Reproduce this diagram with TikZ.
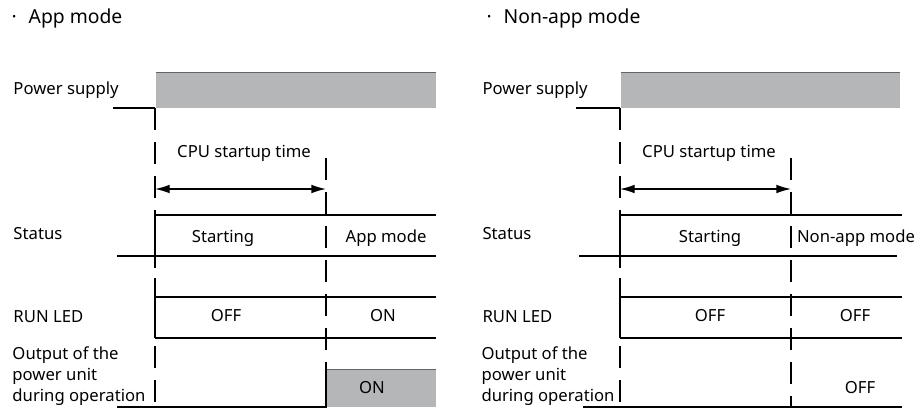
\documentclass[tikz,border=0pt]{standalone}
\usepackage{fontspec}
\setmainfont{Noto Sans}
\usetikzlibrary{arrows.meta}
\definecolor{levelgray}{RGB}{181,182,184}
\definecolor{edgegray}{RGB}{100,100,100}
\tikzset{every picture/.style={line width=0.75pt}}

\begin{document}
\begin{tikzpicture}[x=0.75pt,y=0.75pt,yscale=-1,xscale=1,font=\fontsize{12.5}{15.75}\selectfont]
\useasboundingbox (0,0) rectangle (922,412);

%%%%%%%%%% App mode
%Power supply
\fill [levelgray] (156,72) rectangle (436,108) ;
\draw [color=edgegray] (156,72) -- (436,72) ;
\draw [line width=1pt] (113,108) -- (155,108) ;
%Dashed marks
\draw [line width=1pt, dash pattern={on 16.5pt off 9pt}] (155,108) -- (155,407) ;
\draw [line width=1pt, dash pattern={on 16.5pt off 9pt}] (326,158) -- (326,369) ;
%Startup time
\draw [line width=1pt, {Latex[length=11pt,width=6.5pt]}-{Latex[length=11pt,width=6.5pt]}] (155,189) -- (326,189) ;
%Status
\draw [line width=1pt] (155,268) -- (155,215) -- (436,215) ;
\draw [line width=1pt] (326,192) -- (326,215) ;
\draw [line width=1pt] (117,256) -- (436,256) ;
%RUN LED
\draw [line width=1pt] (155,282) -- (155,338) ;
\draw [line width=1pt] (155,297) -- (436,297) ;
\draw [line width=1pt] (155,338) -- (436,338) ;
%Output
\fill [levelgray] (327,369) rectangle (436,407) ;
\draw [color=edgegray] (327,369) -- (436,369) ;
\draw [line width=1pt] (117,407) -- (326,407) -- (326,369) ;

% Text Node
\draw (10,18) node [anchor=west][inner sep=0.75pt] [font=\fontsize{14.5}{17}\selectfont] {·\hspace{9pt}App mode};
% Text Node
\draw (12,90) node [anchor=west][inner sep=0.75pt] {Power supply};
% Text Node
\draw (244,153) node [inner sep=0.75pt] {CPU startup time};
% Text Node
\draw (12,234) node [anchor=west][inner sep=0.75pt] {Status};
% Text Node
\draw (223,238) node [inner sep=0.75pt] {Starting};
% Text Node
\draw (386,238) node [inner sep=0.75pt] {App mode};
% Text Node
\draw (12,317) node [anchor=west][inner sep=0.75pt] {RUN LED};
% Text Node
\draw (226,316) node [inner sep=0.75pt] {OFF};
% Text Node
\draw (383,316) node [inner sep=0.75pt] {ON};
% Text Node
\draw (11,376) node [anchor=west][inner sep=0.75pt] [align=left] {Output of the\\power unit\\during operation};
% Text Node
\draw (372,388) node [inner sep=0.75pt] {ON};

%%%%%%%%%% Non-app mode
%Power supply
\fill [levelgray] (621,72) rectangle (900,108) ;
\draw [color=edgegray] (621,72) -- (900,72) ;
\draw [line width=1pt] (576,108) -- (620,108) ;
%Dashed marks
\draw [line width=1pt, dash pattern={on 16.5pt off 9pt}] (620,108) -- (620,407) ;
\draw [line width=1pt, dash pattern={on 16.5pt off 9pt}] (791,158) -- (791,407) ;
%Startup time
\draw [line width=1pt, {Latex[length=11pt,width=6.5pt]}-{Latex[length=11pt,width=6.5pt]}] (620,189) -- (791,189) ;
%Status
\draw [line width=1pt] (620,268) -- (620,215) -- (902,215) ;
\draw [line width=1pt] (791,192) -- (791,215) ;
\draw [line width=1pt] (579,256) -- (897,256) ;
%RUN LED
\draw [line width=1pt] (620,282) -- (620,338) ;
\draw [line width=1pt] (620,297) -- (902,297) ;
\draw [line width=1pt] (620,338) -- (902,338) ;
%Output
\draw [line width=1.5pt] (583,407) -- (902,407) ;

% Text Node
\draw (485,18) node [anchor=west][inner sep=0.75pt] [font=\fontsize{14.5}{17}\selectfont] {·\hspace{9pt}Non-app mode};
% Text Node
\draw (481,90) node [anchor=west][inner sep=0.75pt] {Power supply};
% Text Node
\draw (709,153) node [inner sep=0.75pt] {CPU startup time};
% Text Node
\draw (481,234) node [anchor=west][inner sep=0.75pt] {Status};
% Text Node
\draw (710,238) node [inner sep=0.75pt] {Starting};
% Text Node
\draw (856,238) node [inner sep=0.75pt] {Non-app mode};
% Text Node
\draw (481,317) node [anchor=west][inner sep=0.75pt] {RUN LED};
% Text Node
\draw (710,316) node [inner sep=0.75pt] {OFF};
% Text Node
\draw (855,316) node [inner sep=0.75pt] {OFF};
% Text Node
\draw (480,376) node [anchor=west][inner sep=0.75pt] [align=left] {Output of the\\power unit\\during operation};
% Text Node
\draw (860,388) node [inner sep=0.75pt] {OFF};

\end{tikzpicture}
\end{document}
